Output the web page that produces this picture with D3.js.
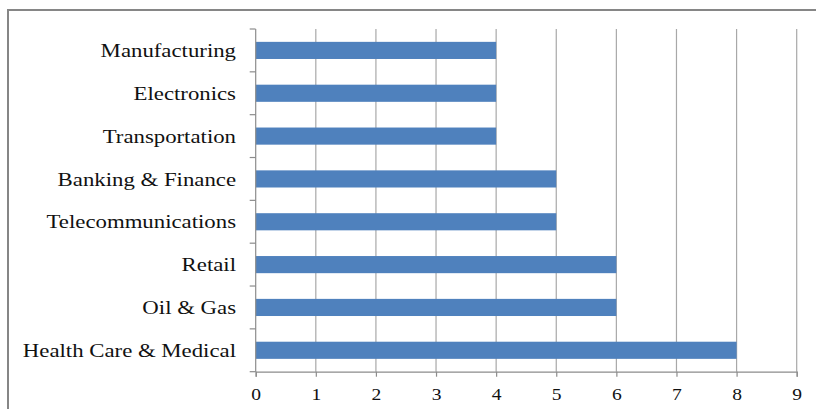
<!DOCTYPE html>
<html><head><meta charset="utf-8">
<script src="https://cdn.jsdelivr.net/npm/d3@7"></script>
<style>body{margin:0;background:#fff}svg{display:block}
text{font-family:"Liberation Serif","Times New Roman","DejaVu Serif",serif;fill:#111}</style>
</head><body>
<svg id="c" width="816" height="409"></svg>
<script>
const categories = ["Manufacturing","Electronics","Transportation","Banking & Finance","Telecommunications","Retail","Oil & Gas","Health Care & Medical"];
const values = [4,4,4,5,5,6,6,8];
const xTicks = [0,1,2,3,4,5,6,7,8,9];

const svg = d3.select("#c");
svg.append("rect").attr("x",8).attr("y",10).attr("width",830).attr("height",430)
  .attr("fill","#fff").attr("stroke","#868686").attr("stroke-width",2);

const x = d3.scaleLinear().domain([0,9]).range([255.7,796.7]);
const y = d3.scaleBand().domain(categories).range([29,371.7]).paddingInner(0.6).paddingOuter(0.3);

svg.append("g").selectAll("line").data(xTicks.slice(1)).join("line")
  .attr("x1",d=>x(d)).attr("x2",d=>x(d)).attr("y1",29).attr("y2",371.7)
  .attr("stroke","#a8a8a8").attr("stroke-width",1.2);

svg.append("g").selectAll("rect").data(values).join("rect")
  .attr("x",x(0)).attr("y",(d,i)=>y(categories[i]))
  .attr("width",d=>x(d)-x(0)).attr("height",y.bandwidth())
  .attr("fill","#4f81bd");

const xa = svg.append("g").attr("transform","translate(0,371.7)")
  .call(d3.axisBottom(x).tickValues(xTicks).tickSize(5).tickPadding(11).tickFormat(d3.format("d")));
xa.attr("font-family",null).attr("font-size",null);
xa.selectAll("line,path").attr("stroke","#8c8c8c").attr("stroke-width",1.2);
xa.selectAll("text").style("font-size","17px").attr("fill","#111")
  .attr("transform","scale(1.15,1)");

const step = y.step();
const bounds = d3.range(categories.length+1).map(i=>29 + i*step);
const ya = svg.append("g");
ya.append("line").attr("x1",x(0)).attr("x2",x(0)).attr("y1",29).attr("y2",371.7).attr("stroke","#8c8c8c").attr("stroke-width",1.2);
ya.selectAll("line.t").data(bounds).join("line").attr("class","t")
  .attr("x1",x(0)-6).attr("x2",x(0)).attr("y1",d=>d).attr("y2",d=>d)
  .attr("stroke","#8c8c8c").attr("stroke-width",1.2);
const lab = ya.append("g").attr("transform","translate(236,0) scale(1.2,1)");
lab.selectAll("text").data(categories).join("text")
  .attr("x",0).attr("y",d=>y(d)+y.bandwidth()/2).attr("dy","0.35em")
  .attr("text-anchor","end").style("font-size","19px")
  .text(d=>d);
</script>
</body></html>
